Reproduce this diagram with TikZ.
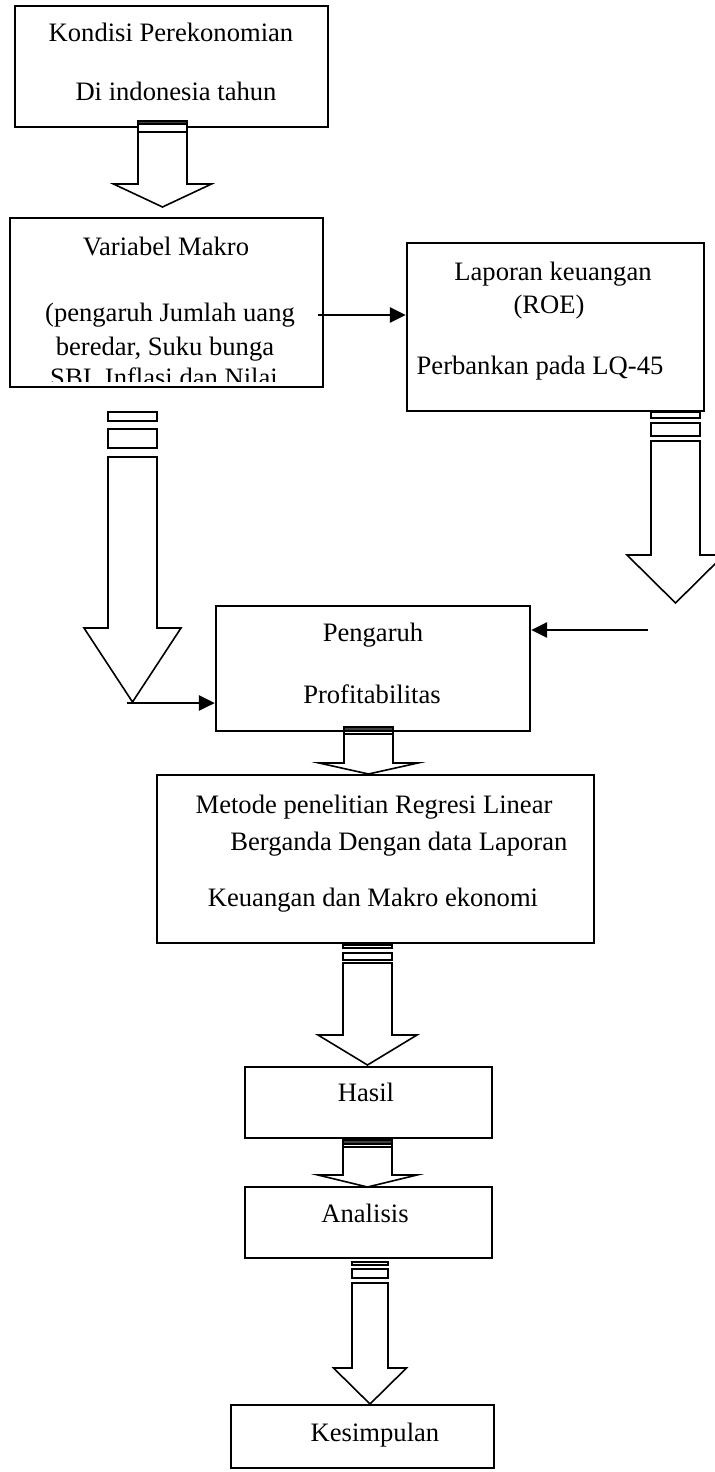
\documentclass[tikz,border=0pt]{standalone}
\usepackage{fontspec}
\setmainfont{Liberation Serif}
\usetikzlibrary{arrows.meta,fit}
\newcommand\mybox[5]{\coordinate (#1-a) at (#2,#3); \coordinate (#1-b) at (#4,#5); \node[box,fit=(#1-a)(#1-b)] (#1) {};}
\newcommand\blockarrow[6]{\draw[arr] ({#1-#5},#2) -- ({#1-#5},#3) -- ({#1-#6},#3) -- (#1,#4) -- ({#1+#6},#3) -- ({#1+#5},#3) -- ({#1+#5},#2) -- cycle;}
\begin{document}
\begin{tikzpicture}[x=0.5pt,y=-0.5pt,
 box/.style={draw,line width=1.1pt,inner sep=0pt},
 txt/.style={anchor=base,inner sep=0pt,font=\fontsize{13.3pt}{16pt}\selectfont},
 arr/.style={draw,line width=0.8pt,fill=white,line join=miter},
 stripe/.style={draw,line width=0.8pt,fill=white},
 darkstripe/.style={draw,line width=0.8pt,fill=black!75},
 conn/.style={line width=1.4pt,-{Triangle[length=8pt,width=7.5pt]}}]
\useasboundingbox (0,0) rectangle (714,1472);
% Box 1
\mybox{kondisi}{15}{6}{328}{127}
\node[txt] (t11) at (171,41) {Kondisi Perekonomian};
\node[txt] (t12) at (176,100) {Di indonesia tahun};
\draw[darkstripe] (138,121) rectangle (187,124);
\draw[stripe] (138,124) rectangle (187,132);
\blockarrow{162.5}{132}{184}{207}{24.5}{49}
% Box 2
\mybox{makro}{10}{218}{323}{387}
\node[txt] (t21) at (166,255) {Variabel Makro};
\node[txt] (t22) at (170,321) {(pengaruh Jumlah uang};
\node[txt] (t23) at (165,355) {beredar, Suku bunga};
\begin{scope}
\clip (10,360) rectangle (323,381);
\node[txt] (t24) at (164,386) {SBI, Inflasi dan Nilai};
\end{scope}
% Box 3
\mybox{lapor}{407}{243}{704}{411}
\node[txt] (t31) at (553,280) {Laporan keuangan};
\node[txt] (t32) at (549,313) {(ROE)};
\node[txt] (t33) at (540,374) {Perbankan pada LQ-45};
\coordinate (h1) at (318,315);
\draw[conn] (h1) -- (h1 -| lapor.west);
% Left big arrow
\draw[stripe] (108,412) rectangle (157,421);
\draw[stripe] (108,429) rectangle (157,448);
\blockarrow{132.5}{457}{628}{702}{24.5}{48.5}
% Right big arrow
\draw[stripe] (651,412) rectangle (700,418);
\draw[stripe] (651,423) rectangle (700,436);
\blockarrow{675.5}{441}{555}{603}{24.5}{48.5}
% Pengaruh
\mybox{peng}{216}{606}{530}{731}
\node[txt] (t41) at (373,641) {Pengaruh};
\node[txt] (t42) at (372,703) {Profitabilitas};
\coordinate (lt) at (127,703);
\draw[conn] (lt) -- (lt -| peng.west);
\coordinate (rt) at (648,630);
\draw[conn] (rt) -- (rt -| peng.east);
\draw[darkstripe] (344,727) rectangle (393,731);
\draw[stripe] (344,731) rectangle (393,734);
\blockarrow{368.5}{734}{763}{774}{24.5}{49.5}
% Metode
\mybox{metode}{157}{775}{594}{943}
\node[txt] (t51) at (374,813) {Metode penelitian Regresi Linear};
\node[txt,anchor=base west] (t52) at (230,850) {Berganda Dengan data Laporan};
\node[txt] (t53) at (373,906) {Keuangan dan Makro ekonomi};
\draw[stripe] (343,945) rectangle (392,948);
\draw[stripe] (343,953) rectangle (392,960);
\blockarrow{367.5}{963}{1035}{1065}{24.5}{49.5}
% Hasil
\mybox{hasil}{245}{1067}{492}{1138}
\node[txt] (t61) at (366,1101) {Hasil};
\draw[darkstripe] (343,1140) rectangle (392,1144);
\draw[stripe] (343,1144) rectangle (392,1147);
\blockarrow{367.5}{1147}{1175}{1187}{24.5}{49.5}
% Analisis
\mybox{analisis}{245}{1187}{492}{1258}
\node[txt] (t71) at (365,1222) {Analisis};
\draw[stripe] (352,1262) rectangle (388,1265);
\draw[stripe] (352,1269) rectangle (388,1278);
\blockarrow{370}{1283}{1368}{1404}{18}{36.5}
% Kesimpulan
\mybox{kesimpulan}{231}{1405}{494}{1468}
\node[txt] (t81) at (375,1441) {Kesimpulan};
\end{tikzpicture}
\end{document}
